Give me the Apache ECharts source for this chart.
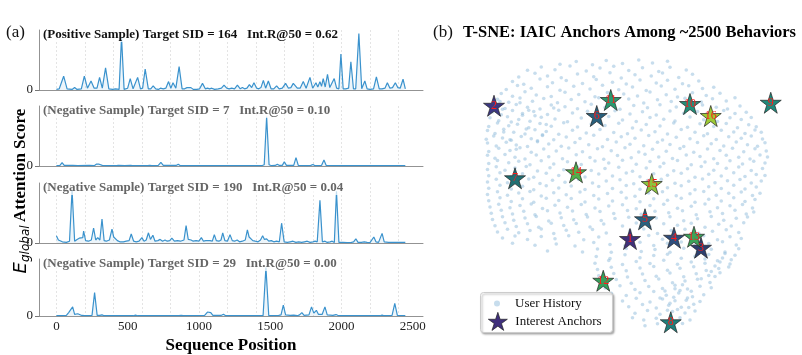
<!DOCTYPE html>
<html>
<head>
<meta charset="utf-8">
<title>Attention scores and T-SNE anchors</title>
<script src="https://cdn.jsdelivr.net/npm/echarts@6/dist/echarts.min.js"></script>
<style>
html,body{margin:0;padding:0;background:#fff;}
#chart{width:802px;height:355px;}
</style>
</head>
<body>
<div id="chart"></div>
<script>
/*** (a) attention score along the sequence, [position, score] ***/
var posSid164 = [[0,1],[20,2],[51,23],[75,2],[110,1],[128,4],[145,1],[175,2],[196,23],[218,3],[243,15],[265,3],[285,3],[303,21],[322,3],[345,37],[368,2],[395,1],[415,2],[440,1],[457,88],[475,1],[500,3],[518,19],[538,2],[552,3],[570,21],[590,2],[605,3],[623,35],[645,2],[662,2],[679,7],[697,2],[715,1],[730,3],[750,2],[768,3],[787,14],[803,3],[818,12],[838,3],[861,39],[882,2],[900,2],[916,4],[930,2],[944,4],[960,1],[985,1],[1005,2],[1025,11],[1045,2],[1060,3],[1075,2],[1090,3],[1110,1],[1135,2],[1158,3],[1176,8],[1195,3],[1212,2],[1230,3],[1250,2],[1270,8],[1290,2],[1305,4],[1320,2],[1337,3],[1354,9],[1370,4],[1386,12],[1405,3],[1420,2],[1435,4],[1452,16],[1468,3],[1487,15],[1506,2],[1525,2],[1545,7],[1563,2],[1585,3],[1608,11],[1628,3],[1645,4],[1662,11],[1672,10],[1690,3],[1710,3],[1732,14],[1752,3],[1766,4],[1779,21],[1798,3],[1810,4],[1821,12],[1834,5],[1849,14],[1860,6],[1872,19],[1886,5],[1902,26],[1918,4],[1932,3],[1949,19],[1966,3],[1982,2],[1996,60],[2012,2],[2030,2],[2050,3],[2066,47],[2084,2],[2100,2],[2122,94],[2142,2],[2152,3],[2164,15],[2180,2],[2200,1],[2225,2],[2245,22],[2265,2],[2285,2],[2305,3],[2322,12],[2340,3],[2358,4],[2378,12],[2395,4],[2412,3],[2432,18],[2448,2]];
var negSid7 = [[0,0.5],[25,1],[40,5.5],[55,1],[75,1],[85,3],[95,1],[105,2],[115,1],[150,0.5],[230,1],[265,0.5],[280,3],[292,1],[300,3],[310,4],[322,1],[350,0.5],[420,0.5],[435,1],[480,0.5],[520,1],[535,0.5],[600,0.5],[640,0.5],[655,1],[670,0.5],[715,1],[733,6],[750,1],[840,1],[855,3],[870,0.5],[1000,0.5],[1115,0.5],[1128,1.5],[1140,0.5],[1300,0.5],[1440,0.5],[1458,2],[1475,82],[1492,2],[1510,0.5],[1535,1],[1550,3],[1565,1],[1585,1],[1599,7],[1614,1],[1665,1],[1681,14],[1697,1],[1760,0.5],[1785,1],[1800,2.5],[1815,0.5],[1860,1],[1877,10],[1893,1],[2000,0.5],[2150,0.5],[2160,1],[2170,0.5],[2360,0.5],[2370,1],[2380,0.5],[2448,0.5]];
var negSid190 = [[0,12],[14,5],[28,8],[42,2],[70,1],[92,3],[110,88],[128,3],[145,6],[160,8],[172,5],[185,9],[191,20],[205,4],[225,3],[245,5],[261,25],[276,5],[290,9],[305,5],[320,40],[335,4],[350,3],[372,5],[390,23],[402,10],[413,11],[428,4],[445,2],[470,2],[490,3],[510,4],[525,15],[542,3],[560,2],[580,3],[600,9],[615,3],[630,5],[646,17],[660,6],[677,13],[692,3],[712,4],[728,6],[745,3],[762,5],[778,3],[795,4],[810,8],[828,3],[850,4],[870,3],[895,5],[910,29],[925,6],[945,5],[960,3],[980,4],[1000,3],[1017,9],[1032,3],[1048,4],[1062,2],[1078,4],[1094,3],[1108,14],[1122,4],[1140,3],[1155,5],[1167,17],[1182,4],[1200,3],[1218,14],[1234,4],[1250,3],[1268,5],[1285,2],[1305,3],[1325,5],[1340,22],[1352,10],[1362,12],[1378,4],[1395,3],[1415,2],[1432,5],[1447,12],[1460,6],[1475,7],[1490,3],[1508,4],[1525,2],[1545,3],[1564,2],[1580,33],[1598,2],[1620,1],[1640,2],[1660,3],[1680,1],[1700,2],[1720,1],[1740,2],[1760,3],[1780,1],[1800,2],[1815,3],[1830,2],[1849,71],[1866,2],[1885,3],[1900,1],[1920,2],[1935,3],[1950,1],[1965,86],[1982,1],[2010,1],[2040,0.5],[2070,1],[2085,2],[2101,7],[2116,1],[2140,1],[2160,2],[2180,1],[2200,0.5],[2212,2],[2227,10],[2242,2],[2260,1],[2272,3],[2285,16],[2300,2],[2330,1],[2352,1],[2366,4],[2380,1],[2410,1],[2448,1]];
var negSid29 = [[0,0.5],[40,0.5],[70,1],[86,6],[100,3],[114,16],[128,3],[140,2],[150,4],[164,6],[178,1],[200,0.5],[250,1],[268,41],[286,1],[305,1],[320,2],[335,0.5],[540,0.5],[555,1.5],[570,0.5],[610,0.5],[620,1],[630,0.5],[860,0.5],[875,1],[890,0.5],[1040,1],[1060,7],[1072,4],[1083,6],[1098,1],[1155,1],[1172,3],[1188,0.5],[1450,0.5],[1470,85],[1490,0.5],[1560,1],[1576,2],[1592,19],[1608,2],[1640,1],[1665,1.5],[1690,0.5],[1706,2],[1722,6],[1738,1],[1772,2],[1790,16],[1806,5],[1824,10],[1838,3],[1852,6],[1865,3],[1884,16],[1900,2],[1940,1],[1962,2.5],[1980,0.5],[2140,0.5],[2152,1.5],[2165,0.5],[2270,0.5],[2285,1.5],[2300,0.5],[2355,1],[2374,22],[2392,1],[2448,0.5]];

var panelTitles = [
    '(Positive Sample) Target SID = 164   Int.R@50 = 0.62',
    '(Negative Sample) Target SID = 7   Int.R@50 = 0.10',
    '(Negative Sample) Target SID = 190   Int.R@50 = 0.04',
    '(Negative Sample) Target SID = 29   Int.R@50 = 0.00'
];
var xTickLabels = [0, 500, 1000, 1500, 2000, 2500];
var gridPositions = [0, 200, 400, 600, 800, 1000, 1200, 1400, 1600, 1800, 2000, 2200, 2400];

/*** (b) t-SNE embedding ***/
var historyPoints = [
[-28,54.3],[-21.5,55.4],[-15,54.1],[-9.5,55.8],[-3,54.6],[3.5,56],[9,54.8],[15,55.5],
[-41,51.9],[-35.5,53.2],[-30,52.1],[-24,53.6],[-17.5,51.6],[-12,52.8],[-6.5,53.5],[-0.5,51.8],[5,52.9],[11.5,51.4],[16,53.1],[22.5,52],
[-44.5,49.2],[-38,50.7],[-33,49.6],[-27.5,48.9],[-21,50.4],[-14.5,49.3],[-8,50.9],[-3.5,48.8],[2,50.1],[8.5,49.6],[13,50.8],[19.5,49],[25,50.3],
[-47,47.4],[-42.5,46.3],[-36,48.4],[-31,46.9],[-25.5,47.8],[-19,46.6],[-13.5,48.2],[-7,47.1],[-1.5,46.4],[4,48],[10.5,46.8],[15,47.9],[21,46.5],[27.5,47.6],
[-49.5,44.2],[-45,45.8],[-39.5,44.7],[-33,45.3],[-28,43.9],[-22.5,45.5],[-16,44.4],[-11,45.9],[-4.5,44.1],[1,45.2],[6.5,43.8],[12.5,45.6],[18,44.3],[23.5,45.7],[29,44.6],[33.5,45.1],
[-51.5,42.6],[-47,41.5],[-42,43.3],[-37.5,42],[-31.5,41.4],[-26,43.1],[-20.5,42.2],[-14,41.3],[-9,43],[-2.5,42.4],[3,41.6],[8,43.2],[14.5,42.1],[19,41.2],[25,42.9],[30.5,41.8],[36,42.7],
[-53,40.3],[-48.5,39.1],[-44,40.8],[-39,39.5],[-34.5,40.6],[-29,38.9],[-23.5,40.2],[-18,39.3],[-12.5,40.9],[-6,39.7],[-0.5,40.4],[5.5,38.8],[11,40.1],[16.5,39.4],[22,40.7],[28.5,39.2],[33,40.5],[38.5,39.6],[42,40.9],
[-54,37.9],[-50,36.6],[-45.5,38.2],[-41,37.1],[-36,36.4],[-31.5,38],[-26,37.3],[-21,36.5],[-15.5,38.3],[-10,37],[-4,36.3],[1.5,37.8],[7,36.9],[12,38.1],[18.5,37.2],[23,36.6],[29,38],[34.5,37.1],[39,36.4],[44,37.6],
[-55,35.2],[-51.5,34.1],[-47,35.8],[-43,34.6],[-38.5,35.4],[-33,34.2],[-28.5,35.9],[-23,34.8],[-17,35.5],[-11.5,34.3],[-6,35.7],[0,34.4],[5,35.3],[10.5,34],[16,35.6],[21.5,34.7],[27,35.4],[32,34.1],[37.5,35.8],[42,34.6],[46.5,35.1],
[-56,32.9],[-52.5,31.7],[-49,33.3],[-44.5,32.2],[-40,31.5],[-35.5,33.1],[-30,32.4],[-25,31.3],[-19.5,32.8],[-14,31.9],[-8.5,33.4],[-3,32],[2.5,31.4],[8,33],[13.5,32.3],[18,31.6],[24,33.2],[29.5,32.1],[35,31.4],[40,32.9],[44.5,32.2],[48.5,33],
[-56.5,29.4],[-53,30.8],[-48.5,29.7],[-45,30.3],[-40.5,28.9],[-36,30.6],[-31.5,29.5],[-26.5,30.9],[-21,29.2],[-15.5,30.4],[-10,29.8],[-4.5,30.7],[1,28.8],[6.5,30.2],[12,29.6],[17.5,30.8],[23,29.1],[28,30.5],[33.5,29.4],[38.5,30.6],[43,28.9],[47.5,30.1],[50.5,29.3],
[-57,27.8],[-54,26.6],[-50.5,28.3],[-46.5,27.1],[-42,26.4],[-38,28.1],[-33.5,27.4],[-28.5,26.3],[-23,27.9],[-17.5,26.8],[-12,28.2],[-6.5,27],[-1,26.5],[4.5,28],[10,27.3],[15,26.4],[20.5,28.2],[26,27.1],[31,26.5],[36.5,27.9],[41.5,27.2],[46,26.6],[50,28],[52.5,27.1],
[-57.5,24.3],[-54.5,25.6],[-51,24.8],[-47.5,23.9],[-43.5,25.4],[-39.5,24.5],[-35,25.8],[-30.5,24.1],[-25.5,25.2],[-20,24.6],[-14.5,25.9],[-9,24.2],[-3.5,25.3],[2,24.7],[7.5,25.8],[13,24],[18.5,25.1],[24,24.5],[29.5,25.7],[34.5,24.2],[39.5,25.3],[44.5,24.7],[48.5,25.6],[53,24.4],
[-57,22.8],[-53.5,21.6],[-49.5,23.1],[-45.5,22],[-41,21.4],[-37,23.3],[-32.5,22.4],[-27.5,21.5],[-22,23],[-16.5,22.1],[-11,21.3],[-5.5,23.2],[0,22.3],[5.5,21.7],[11,23.1],[16,22.2],[21.5,21.4],[27,23],[32.5,22.5],[37.5,21.6],[42.5,23.2],[47,22.1],[51,21.5],[54,22.9],
[-56.5,19.4],[-52.5,20.7],[-48,19.8],[-44,20.9],[-39.5,19.1],[-34.5,20.4],[-29.5,19.6],[-24.5,20.8],[-19,19.3],[-13,20.5],[-7.5,19.7],[-2,20.9],[3.5,19.2],[9,20.3],[14.5,19.5],[20,20.6],[25.5,19.1],[31,20.4],[36,19.8],[41,20.7],[45.5,19.3],[50,20.5],[54.5,19.6],
[-57,17.9],[-54,16.7],[-50,18.2],[-46,17.1],[-42,16.4],[-37.5,18],[-32.5,17.3],[-27,16.5],[-21.5,18.1],[-16,17],[-10.5,16.3],[-5,17.8],[0.5,16.9],[6,18.3],[11.5,17.2],[17,16.6],[22.5,18],[28,17.4],[33.5,16.5],[38.5,17.9],[43.5,17.1],[48,16.4],[52,18],[55,17.2],
[-56.5,14.6],[-53,15.8],[-48.5,14.9],[-44.5,15.5],[-40,14.1],[-35.5,15.7],[-30.5,14.4],[-25,15.3],[-19.5,14.2],[-14,15.6],[-8.5,14.8],[-3,15.9],[2.5,14.3],[8,15.4],[13.5,14.7],[19,15.8],[24.5,14.1],[30,15.2],[35,14.6],[40,15.7],[45,14.4],[49.5,15.5],[54,14.8],
[-57,12.2],[-53.5,13.3],[-50,11.9],[-46,12.8],[-41.5,13.4],[-37,11.6],[-32,12.9],[-26.5,12.1],[-21,13.2],[-15.5,11.8],[-10,12.6],[-4.5,13.1],[1,11.5],[6.5,12.8],[12,13.3],[17.5,11.7],[23,12.5],[28.5,13.4],[33.5,11.9],[38.5,12.7],[43.5,13.2],[48.5,11.8],[53,12.6],
[-56.5,9.7],[-52,10.9],[-47.5,9.4],[-43,10.5],[-38.5,9.1],[-33.5,10.7],[-28.5,9.8],[-23.5,10.6],[-18,9.2],[-12.5,10.4],[-7,9.6],[-1.5,10.8],[4,9.3],[9.5,10.5],[15,9.9],[20.5,10.7],[26,9.1],[31.5,10.3],[36.5,9.6],[41.5,10.9],[46,9.4],[50.5,10.2],[54,9.8],
[-57,7.2],[-53.5,8.3],[-49,6.9],[-45,7.8],[-40.5,8.4],[-36,6.6],[-31,7.9],[-26,7.1],[-20.5,8.2],[-15,6.8],[-9.5,7.6],[-4,8.1],[1.5,6.5],[7,7.8],[12.5,8.3],[18,6.7],[23.5,7.5],[29,8.4],[34,6.9],[39,7.7],[44,8.2],[48.5,6.8],[52.5,7.6],
[-56.5,4.7],[-52,5.9],[-47.5,4.4],[-43,5.5],[-38.5,4.1],[-33.5,5.7],[-28.5,4.8],[-23.5,5.6],[-18,4.2],[-12.5,5.4],[-7,4.6],[-1.5,5.8],[4,4.3],[9.5,5.5],[15,4.9],[20.5,5.7],[26,4.1],[31.5,5.3],[36.5,4.6],[41.5,5.9],[46,4.4],[50.5,5.2],
[-57,2.2],[-53,3.3],[-49,1.9],[-44.5,2.8],[-40,3.4],[-35.5,1.6],[-30.5,2.9],[-25.5,2.1],[-20,3.2],[-14.5,1.8],[-9,2.6],[-3.5,3.1],[2,1.5],[7.5,2.8],[13,3.3],[18.5,1.7],[24,2.5],[29.5,3.4],[34.5,1.9],[39.5,2.7],[44.5,3.2],[49,1.8],[52,2.7],
[-56.5,-0.3],[-52,0.9],[-47.5,-0.6],[-43,0.5],[-38.5,-0.9],[-33.5,0.7],[-28.5,-0.2],[-23.5,0.6],[-18,-0.8],[-12.5,0.4],[-7,-0.4],[-1.5,0.8],[4,-0.7],[9.5,0.5],[15,-0.1],[20.5,0.7],[26,-0.9],[31.5,0.3],[36.5,-0.4],[41.5,0.9],[46,-0.6],[50,0.2],
[-56,-2.8],[-52.5,-1.7],[-48,-3.1],[-44,-2.2],[-39.5,-1.6],[-35,-3.4],[-30,-2.1],[-25,-2.9],[-19.5,-1.8],[-14,-3.2],[-8.5,-2.4],[-3,-1.9],[2.5,-3.5],[8,-2.2],[13.5,-1.7],[19,-3.3],[24.5,-2.5],[30,-1.6],[35,-3.1],[40,-2.3],[45,-1.8],[49,-3.2],
[-55.5,-5.3],[-51.5,-4.1],[-47,-5.6],[-42.5,-4.5],[-38,-5.9],[-33,-4.3],[-28,-5.2],[-23,-4.4],[-17.5,-5.8],[-12,-4.6],[-6.5,-5.4],[-1,-4.2],[4.5,-5.7],[10,-4.5],[15.5,-5.1],[21,-4.3],[26.5,-5.9],[32,-4.7],[37,-5.4],[42,-4.1],[46.5,-5.6],[49.5,-4.8],
[-55,-7.8],[-51,-6.7],[-46.5,-8.1],[-42,-7.2],[-37.5,-6.6],[-32.5,-8.4],[-27.5,-7.1],[-22.5,-7.9],[-17,-6.8],[-11.5,-8.2],[-6,-7.4],[-0.5,-6.9],[5,-8.5],[10.5,-7.2],[16,-6.7],[21.5,-8.3],[27,-7.5],[32.5,-6.6],[37.5,-8.1],[42.5,-7.3],[47,-6.8],
[-54,-10.3],[-50,-9.1],[-45.5,-10.6],[-41,-9.5],[-36.5,-10.9],[-31.5,-9.3],[-26.5,-10.2],[-21.5,-9.4],[-16,-10.8],[-10.5,-9.6],[-3,-10.4],[2.5,-9.2],[8,-10.7],[13.5,-9.5],[19,-10.1],[24.5,-9.3],[30,-10.9],[35.5,-9.7],[40.5,-10.4],[45.5,-9.1],
[-53,-12.8],[-49,-11.7],[-44.5,-13.1],[-40,-12.2],[-35.5,-11.6],[-30.5,-13.4],[-25.5,-12.1],[-20.5,-12.9],[-15,-11.8],[-9.5,-13.2],[0,-12.3],[5.5,-11.6],[11,-13.4],[16.5,-12.2],[22,-11.7],[27.5,-13.3],[33,-12.5],[38.5,-11.9],[43.5,-13],
[-51,-15.2],[-46,-14.4],[-41,-15.8],[-35.5,-14.6],[-30,-15.5],[-24.5,-14.3],[-18.5,-15.9],[-12.5,-14.8],[2,-15.4],[7.5,-14.2],[13,-15.7],[18.5,-14.5],[24,-15.1],[29.5,-14.3],[35,-15.9],[40,-14.7],[44.5,-15.4],
[-47,-17.3],[-38,-18.1],[-29.5,-17.6],[-22,-18.4],[-14.5,-17],[-8,-17.8],[-2,-18.3],[4,-16.9],[9.5,-18.2],[15,-17.3],[20.5,-16.8],[26,-18.1],[31.5,-17.4],[37,-16.7],[42.5,-18],
[-33,-20.4],[-19,-20.8],[-13,-19.6],[-7.5,-20.9],[-1.5,-19.4],[4.5,-20.6],[10,-19.8],[16,-20.9],[21.5,-19.3],[27,-20.5],[32.5,-19.7],[38,-20.8],[43.5,-19.5],
[-13.5,-22.6],[-8,-23.4],[-2,-21.9],[4,-23.1],[9.5,-22.2],[15,-21.7],[20.5,-23.3],[26,-22.5],[31.5,-21.8],[37,-23.2],[42,-22.1],
[-14,-25.3],[-8.5,-24.2],[-3,-25.8],[2.5,-24.6],[8,-25.4],[13.5,-24.1],[19,-25.7],[24.5,-24.8],[30,-25.3],[35,-24.3],[40,-25.6],
[-13,-27.8],[-7.5,-26.9],[-1.5,-28.3],[4,-27.2],[9.5,-26.6],[15,-28.1],[20,-27.3],[25.5,-26.7],[30.5,-28.2],[35.5,-27.4],[39.5,-26.8],
[-12.5,-30.3],[-6.5,-29.4],[-1,-30.8],[5,-29.6],[10.5,-30.5],[16,-29.2],[21.5,-30.7],[26.5,-29.5],[31.5,-30.2],[36,-29.1],
[-11.5,-32.7],[-5.5,-31.8],[0.5,-33.3],[6,-32.2],[11.5,-31.6],[17,-33.1],[22,-32.4],[27,-31.7],[32,-33],
[-10,-35.2],[-4,-34.3],[2,-35.8],[7.5,-34.6],[13,-35.4],[18,-34.1],[23,-35.6],[28,-34.5],[32.5,-35.1],
[-7.5,-37.3],[-1.5,-38.2],[4,-37.1],[9.5,-36.6],[14.5,-38.1],[19.5,-37.2],[24.5,-36.5],[29.5,-37.9],
[-3,-40.4],[2.5,-39.3],[8,-40.8],[13,-39.6],[18,-40.3],[23,-39.2],[28,-40.6],
[-0.5,-42.7],[5,-41.8],[10.5,-43.2],[15.5,-42.1],[20.5,-42.9],[25.5,-41.7],
[2,-45.3],[7,-44.2],[12,-45.7],[17,-44.6],[22,-45.2],[26,-44.4],
[1,-47.1],[5.5,-48],[10.5,-47.3],[15.5,-48.2],[20,-47.1],[24,-48],
[6,-50.3],[11,-49.5],[16,-50.6],[21,-49.4],
[-51,36.3],[-47.5,31.2],[-44,38.9],[-41.5,28.4],[-38,33.7],[-35,26.1],[-48,24.1],[-45.5,20.3],[-40.5,35.9],[-37,23.7],[-33.5,30.2],[-50.5,27.2],[-43,33.9],[-52,39.4],[-30.5,36.8],
[14,-36.4],[17.5,-38.9],[20,-36.2],[22.5,-40.1],[16,-41.3],[19,-43.8],[12,-39.2],[25,-38.7],[21,-33.9],[18,-35.5],[15,-44.1],[23.5,-43],
[30,-23.6],[34,-26.4],[38,-21.4],[32.5,-28.6],[36,-24.8],[40.5,-23.9],[28.5,-31.5],[34,-30.6]
];

var anchorIds = [1, 2, 3, 4, 5, 6, 7, 8, 9, 10, 11, 12, 13, 14, 15, 16];
var anchorX = [0, -54.4, 28.4, 17.6, 6, -13.3, -46, 16.3, 56.3, 24, -7.7, -10.7, 25.6, -21.6, 8.7, 32.3];
var anchorY = [-15.6, 37.7, -19.1, -15.1, -7.7, 33.6, 8.7, -48.9, 38.9, 38.4, 40, -32.3, -14.7, 11.1, 6.4, 33.6];

// star fill per anchor (viridis-like)
var anchorColors = ['#40307a', '#3c3883', '#2d3f6f', '#2f4e7d', '#2a617f', '#29607d', '#1f6f73', '#1f7f7b',
    '#1f8a7b', '#238f79', '#2a9a70', '#35a15c', '#3ba459', '#52b04c', '#8cc53e', '#9ecb35'];

var SERIF = '"Liberation Serif", "DejaVu Serif", serif';
var LINE_BLUE = '#3a92cd';
var STAR = 'path://M50,0L61.2,34.55L97.55,34.55L68.15,55.9L79.4,90.45L50,69.1L20.6,90.45L31.85,55.9L2.45,34.55L38.8,34.55Z';

var panelData = [posSid164, negSid7, negSid190, negSid29];
var panelTops = [30, 106, 183, 259];

var grids = [], xAxes = [], yAxes = [], series = [], titles = [];

function each(arr, fn) { for (var i = 0; i < arr.length; i++) fn(i, arr[i]); }

each(panelData, function (i, data) {
    var last = (i == panelData.length - 1);
    grids.push({left: 39, top: panelTops[i], width: 384, height: 60});
    xAxes.push({
        type: 'value', gridIndex: i, min: -122, max: 2572,
        axisLine: {show: true, onZero: false, lineStyle: {color: '#777', width: 0.8}},
        // ticks hidden, but their positions drive the vertical grid lines
        axisTick: {show: false, customValues: gridPositions},
        splitLine: {show: true, lineStyle: {color: '#dedede', type: [2, 2], width: 0.8}},
        axisLabel: {
            show: last, customValues: xTickLabels, margin: 4,
            formatter: function (v) { return String(v); },
            fontFamily: SERIF, fontSize: 13, color: '#222'
        },
        name: last ? 'Sequence Position' : '',
        nameLocation: 'middle', nameGap: 21,
        nameTextStyle: {fontFamily: SERIF, fontWeight: 'bold', fontSize: 17, color: '#000'}
    });
    yAxes.push({
        type: 'value', gridIndex: i, min: 0, max: 100,
        axisLine: {show: true, onZero: false, lineStyle: {color: '#777', width: 0.8}},
        axisTick: {show: true, length: 4, customValues: [0], lineStyle: {color: '#777'}},
        axisLabel: {customValues: [0], margin: 6, fontFamily: SERIF, fontSize: 13, color: '#222'},
        splitLine: {show: false}
    });
    series.push({
        type: 'line', xAxisIndex: i, yAxisIndex: i, data: data,
        showSymbol: false, animation: false,
        lineStyle: {color: LINE_BLUE, width: 1.2},
        itemStyle: {color: LINE_BLUE},
        areaStyle: {color: 'rgba(58,146,205,0.13)'}
    });
    titles.push({
        text: panelTitles[i], left: 41, top: panelTops[i] - 3,
        padding: [1, 2],
        backgroundColor: 'rgba(255,255,255,0.7)',
        textStyle: {
            fontFamily: SERIF, fontWeight: 'bold', fontSize: 13,
            color: i == 0 ? '#111' : '#666'
        }
    });
});

// scatter panel
grids.push({left: 470, top: 55, width: 320, height: 290});
xAxes.push({type: 'value', gridIndex: 4, min: -64, max: 64, show: false, splitLine: {show: false}});
yAxes.push({type: 'value', gridIndex: 4, min: -58, max: 58, show: false, splitLine: {show: false}});

series.push({
    name: 'User History', type: 'scatter', xAxisIndex: 4, yAxisIndex: 4,
    data: historyPoints, symbolSize: 3.6, animation: false, silent: true,
    itemStyle: {color: '#8fbbdb', opacity: 0.5}
});

var anchorData = [];
each(anchorIds, function (i, id) {
    anchorData.push({
        name: String(id),
        value: [anchorX[i], anchorY[i]],
        itemStyle: {color: anchorColors[i], opacity: 1}
    });
});
series.push({
    name: 'Interest Anchors', type: 'scatter', xAxisIndex: 4, yAxisIndex: 4,
    data: anchorData, symbol: STAR, symbolSize: 21, animation: false, z: 5,
    itemStyle: {color: '#3f2f7c', opacity: 1, borderColor: '#222', borderWidth: 0.7},
    label: {
        show: true, position: 'inside', color: '#ff1a1a',
        fontFamily: SERIF, fontSize: 12, offset: [0, 1],
        formatter: function (p) { return p.name; }
    },
    labelLayout: {hideOverlap: false}
});

titles.push({text: '(a)', left: 6, top: 24, padding: 0,
    textStyle: {fontFamily: SERIF, fontWeight: 'normal', fontSize: 17, color: '#111'}});
titles.push({text: '(b)', left: 433, top: 24, padding: 0,
    textStyle: {fontFamily: SERIF, fontWeight: 'normal', fontSize: 17, color: '#111'}});
titles.push({text: 'T-SNE: IAIC Anchors Among ~2500 Behaviors', left: 463, top: 24, padding: 0,
    textStyle: {fontFamily: SERIF, fontWeight: 'bold', fontSize: 16.5, color: '#000'}});

var option = {
    animation: false,
    backgroundColor: '#fff',
    title: titles,
    grid: grids,
    xAxis: xAxes,
    yAxis: yAxes,
    legend: [
        {
            data: ['User History'], left: 494, top: 297, padding: 0, z: 10,
            selectedMode: false, icon: 'circle', itemWidth: 6, itemHeight: 6,
            textStyle: {fontFamily: SERIF, fontSize: 13, color: '#111', padding: [0, 0, 0, 10]}
        },
        {
            data: ['Interest Anchors'], left: 488, top: 312, padding: 0, z: 10,
            selectedMode: false, icon: STAR, itemWidth: 19, itemHeight: 19,
            itemStyle: {color: '#3f2f7c', borderColor: '#222', borderWidth: 0.7},
            textStyle: {fontFamily: SERIF, fontSize: 13, color: '#111', padding: [0, 0, 0, 3]}
        }
    ],
    graphic: [
        {
            type: 'rect', left: 480, top: 292, z: 9, silent: true,
            shape: {width: 132, height: 40, r: 3},
            style: {fill: '#fff', stroke: '#cccccc', lineWidth: 1,
                shadowBlur: 2, shadowOffsetX: 1.5, shadowOffsetY: 1.5, shadowColor: 'rgba(0,0,0,0.3)'}
        },
        {
            type: 'text', x: 21, y: 191, rotation: Math.PI / 2, silent: true,
            style: {
                text: '{e|E}{g|global} {b|Attention Score}',
                align: 'center', verticalAlign: 'middle',
                rich: {
                    e: {fontFamily: 'DejaVu Sans', fontStyle: 'italic', fontSize: 18, lineHeight: 22, fill: '#000'},
                    g: {fontFamily: 'DejaVu Sans', fontStyle: 'italic', fontSize: 12, lineHeight: 22, verticalAlign: 'bottom', padding: [7, 0, 0, 0], fill: '#000'},
                    b: {fontFamily: SERIF, fontWeight: 'bold', fontSize: 17, lineHeight: 22, fill: '#000'}
                }
            }
        }
    ],
    series: series
};

var chart = echarts.init(document.getElementById('chart'));
chart.setOption(option);
</script>
</body>
</html>
